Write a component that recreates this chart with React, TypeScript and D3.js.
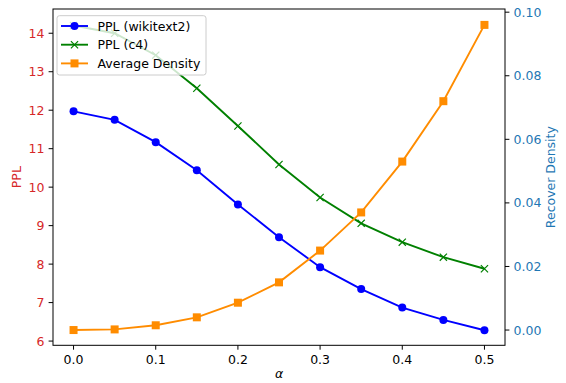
import React from 'react';
import * as d3 from 'd3';

// alpha values on the x axis
const alphas = [0.0, 0.05, 0.1, 0.15, 0.2, 0.25, 0.3, 0.35, 0.4, 0.45, 0.5];
// PPL series (left axis)
const pplWikitext2 = [11.97, 11.75, 11.17, 10.44, 9.55, 8.7, 7.92, 7.35, 6.87, 6.55, 6.28];
const pplC4 = [14.2, 14.0, 13.43, 12.57, 11.59, 10.59, 9.73, 9.06, 8.57, 8.18, 7.88];
// density series (right axis)
const avgDensity = [0.0, 0.0002, 0.0015, 0.004, 0.0086, 0.015, 0.025, 0.037, 0.053, 0.072, 0.096];

const xTicks = [0.0, 0.1, 0.2, 0.3, 0.4, 0.5];
const leftTicks = [6, 7, 8, 9, 10, 11, 12, 13, 14];
const rightTicks = [0.0, 0.02, 0.04, 0.06, 0.08, 0.1];

const W = 566;
const H = 383;
const plot = { left: 53, right: 505, top: 9, bottom: 345.3 };
const font = 'DejaVu Sans, sans-serif';
const fs = 12.5;
const red = '#d62728';
const tabBlue = '#1f77b4';

export default function App() {
    const x = d3.scaleLinear().domain([-0.025, 0.525]).range([plot.left, plot.right]);
    const yL = d3.scaleLinear().domain([5.89, 14.63]).range([plot.bottom, plot.top]);
    const yR = d3.scaleLinear().domain([-0.0048, 0.101]).range([plot.bottom, plot.top]);

    const lineL = d3
        .line<number>()
        .x((d, i) => x(alphas[i]))
        .y((d) => yL(d));
    const lineR = d3
        .line<number>()
        .x((d, i) => x(alphas[i]))
        .y((d) => yR(d));

    const tickLen = 4.4;
    const midY = (plot.top + plot.bottom) / 2;

    const xMark = (cx: number, cy: number, s: number, color: string, key: any) => (
        <path
            key={key}
            d={`M${cx - s},${cy - s}L${cx + s},${cy + s}M${cx - s},${cy + s}L${cx + s},${cy - s}`}
            stroke={color}
            strokeWidth={1.2}
            fill="none"
        />
    );

    const legendItems = [
        { label: 'PPL (wikitext2)', color: 'blue', marker: 'o' },
        { label: 'PPL (c4)', color: 'green', marker: 'x' },
        { label: 'Average Density', color: 'darkorange', marker: 's' },
    ];

    return (
        <svg
            width={W}
            height={H}
            style={{ position: 'absolute', left: 0, top: 0, background: 'white' }}
            fontFamily={font}
            fontSize={fs}
        >
            <rect x={0} y={0} width={W} height={H} fill="white" />

            {/* blue: wikitext2 */}
            <path d={lineL(pplWikitext2) || ''} fill="none" stroke="blue" strokeWidth={1.9} />
            {pplWikitext2.map((v, i) => (
                <circle key={'b' + i} cx={x(alphas[i])} cy={yL(v)} r={4} fill="blue" />
            ))}

            {/* green: c4 */}
            <path d={lineL(pplC4) || ''} fill="none" stroke="green" strokeWidth={1.9} />
            {pplC4.map((v, i) => xMark(x(alphas[i]), yL(v), 3.6, 'green', 'g' + i))}

            {/* orange: density */}
            <path d={lineR(avgDensity) || ''} fill="none" stroke="darkorange" strokeWidth={1.9} />
            {avgDensity.map((v, i) => (
                <rect key={'o' + i} x={x(alphas[i]) - 4} y={yR(v) - 4} width={8} height={8} fill="darkorange" />
            ))}

            {/* frame */}
            <rect
                x={plot.left}
                y={plot.top}
                width={plot.right - plot.left}
                height={plot.bottom - plot.top}
                fill="none"
                stroke="black"
                strokeWidth={1}
            />

            {/* x axis */}
            {xTicks.map((t) => (
                <g key={'xt' + t}>
                    <line x1={x(t)} x2={x(t)} y1={plot.bottom} y2={plot.bottom + tickLen} stroke="black" />
                    <text x={x(t)} y={364} textAnchor="middle" fill="black">
                        {t.toFixed(1)}
                    </text>
                </g>
            ))}
            <text x={(plot.left + plot.right) / 2} y={378} textAnchor="middle" fontStyle="italic" fill="black">
                α
            </text>

            {/* left axis */}
            {leftTicks.map((t) => (
                <g key={'yl' + t}>
                    <line x1={plot.left - tickLen} x2={plot.left} y1={yL(t)} y2={yL(t)} stroke="black" />
                    <text x={plot.left - 8.6} y={yL(t)} dy="0.36em" textAnchor="end" fill={red}>
                        {t}
                    </text>
                </g>
            ))}
            <text transform={`translate(21,${midY}) rotate(-90)`} textAnchor="middle" fill={red}>
                PPL
            </text>

            {/* right axis */}
            {rightTicks.map((t) => (
                <g key={'yr' + t}>
                    <line x1={plot.right} x2={plot.right + tickLen} y1={yR(t)} y2={yR(t)} stroke="black" />
                    <text x={plot.right + 8.6} y={yR(t)} dy="0.36em" textAnchor="start" fill={tabBlue}>
                        {t.toFixed(2)}
                    </text>
                </g>
            ))}
            <text transform={`translate(555,${midY}) rotate(-90)`} textAnchor="middle" fill={tabBlue}>
                Recover Density
            </text>

            {/* legend */}
            <rect x={57} y={15.7} width={149} height={59.3} rx={2.5} fill="white" fillOpacity={0.8} stroke="#cccccc" />
            {legendItems.map((it, i) => {
                const cy = 26 + i * 18.7;
                return (
                    <g key={'lg' + i}>
                        <line x1={61} x2={88} y1={cy} y2={cy} stroke={it.color} strokeWidth={1.9} />
                        {it.marker === 'o' && <circle cx={74.5} cy={cy} r={4} fill={it.color} />}
                        {it.marker === 'x' && xMark(74.5, cy, 3.6, it.color, 'lx')}
                        {it.marker === 's' && <rect x={70.5} y={cy - 4} width={8} height={8} fill={it.color} />}
                        <text x={97.5} y={cy} dy="0.36em" fill="black">
                            {it.label}
                        </text>
                    </g>
                );
            })}
        </svg>
    );
}
